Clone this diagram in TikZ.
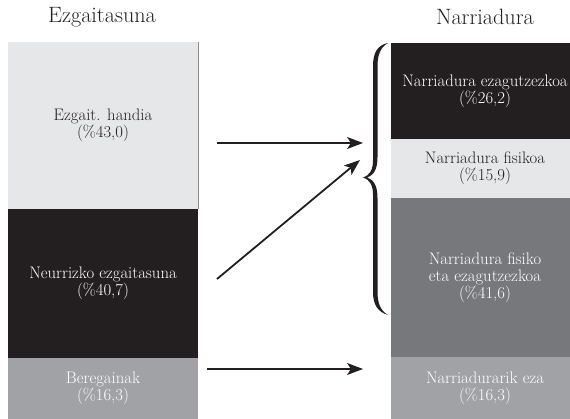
\documentclass[tikz,border=0pt]{standalone}
\usepackage{fontspec}
\usetikzlibrary{arrows.meta}
\definecolor{lgray}{HTML}{E6E7E8}
\definecolor{ink}{HTML}{231F20}
\definecolor{dgray}{HTML}{77787B}
\definecolor{mgray}{HTML}{A1A2A5}
\begin{document}
\begin{tikzpicture}[x=1pt,y=-1pt,
  box/.style={rectangle, inner sep=0pt, outer sep=0pt, align=center, font=\fontsize{16.7}{16.8}\selectfont},
  lbox/.style={box, minimum width=190pt},
  rbox/.style={box, minimum width=188pt},
  ttl/.style={font=\fontsize{22.2}{26}\selectfont, text=ink},
  arr/.style={line width=1.8pt, draw=ink, -{Stealth[length=16pt,width=12pt,inset=4pt]}}]
\useasboundingbox (0,0) rectangle (570,419);
\clip (0,0) rectangle (570,419);
% titles
\node[ttl] (t1) at (102,17) {Ezgaitasuna};
\node[ttl] (t2) at (485,17) {Narriadura};
% left column
\node[lbox, fill=lgray, text=ink, minimum height=167pt] (lg) at (103,125.5) {Ezgait. handia\\(\%43,0)};
\node[lbox, fill=ink, text=white, minimum height=149pt] (lk) at (103,283.5) {Neurrizko ezgaitasuna\\(\%40,7)};
\node[lbox, fill=mgray, text=white, minimum height=61pt] (lm) at (103,388.5) {Beregainak\\(\%16,3)};
\draw[black!45, line width=0.7pt] (lg.north east) -- (lg.south east);
% right column
\node[rbox, fill=ink, text=white, minimum height=96pt] (r1) at (485,91) {Narriadura ezagutzezkoa\\(\%26,2)};
\node[rbox, fill=lgray, text=ink, minimum height=59pt] (r2) at (485,168.5) {Narriadura fisikoa\\(\%15,9)};
\node[rbox, fill=dgray, text=white, minimum height=159pt] (r3) at (485,277.5) {Narriadura fisiko\\eta ezagutzezkoa\\(\%41,6)};
\node[rbox, fill=mgray, text=white, minimum height=62pt] (r4) at (485,388) {Narriadurarik eza\\(\%16,3)};
% brace
\fill[ink] (388,43)
  .. controls (378,45) and (373,52) .. (373,66)
  -- (373,160)
  .. controls (373,170) and (370,175) .. (363,177.5)
  .. controls (370,180) and (373,185) .. (373,195)
  -- (373,292)
  .. controls (373,305) and (378,312) .. (388,315)
  .. controls (381,311) and (377.5,304) .. (377.5,292)
  -- (377.5,198)
  .. controls (377.5,186) and (374,180) .. (367,177.5)
  .. controls (374,175) and (377.5,169) .. (377.5,157)
  -- (377.5,66)
  .. controls (377.5,54) and (381,47) .. (388,43) -- cycle;
\coordinate (tip) at (363,177.5);
% arrows
\coordinate (a1s) at (217,143);
\coordinate (a1e) at (363,143);
\coordinate (a2s) at (217,279);
\coordinate (a2e) at (360,160);
\coordinate (a3s) at (207,369);
\coordinate (a3e) at (363,369);
\draw[arr] (a1s) -- (a1e);
\draw[arr] (a2s) -- (a2e);
\draw[arr] (a3s) -- (a3e);
\end{tikzpicture}
\end{document}
